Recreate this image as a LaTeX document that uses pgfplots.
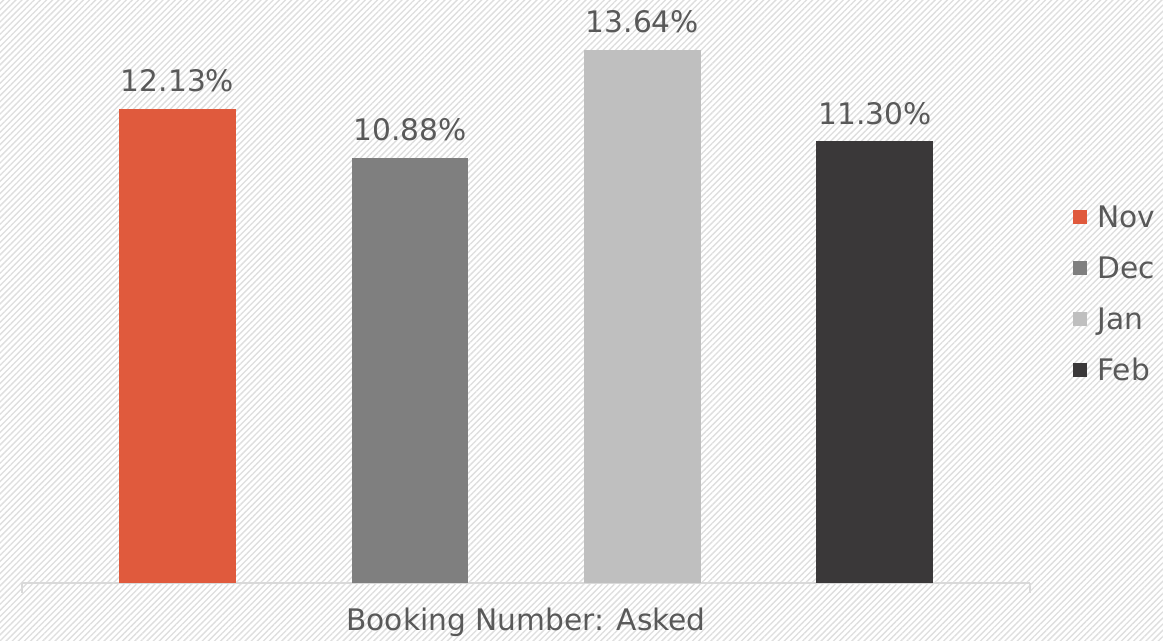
\documentclass[border=0pt]{standalone}
\usepackage{pgfplots}
\pgfplotsset{compat=1.18}
\usepackage{fontspec}
\setmainfont{DejaVu Sans}
\usetikzlibrary{patterns.meta}
\definecolor{cnov}{HTML}{E05A3D}
\definecolor{cdec}{HTML}{7F7F7F}
\definecolor{cjan}{HTML}{BFBFBF}
\definecolor{cfeb}{HTML}{3A3839}
\definecolor{txt}{HTML}{595959}
\definecolor{axl}{HTML}{D9D9D9}
\begin{document}
\begin{tikzpicture}
\path[use as bounding box] (-13.2pt,-34.8pt) rectangle (684.6pt,349.8pt);
\fill[white] (-13.2pt,-34.8pt) rectangle (684.6pt,349.8pt);
\fill[pattern={Lines[angle=45,distance=2.6pt,line width=0.8pt]},pattern color=black!13] (-13.2pt,-34.8pt) rectangle (684.6pt,349.8pt);
\begin{axis}[
  at={(0,0)}, anchor=south west,
  scale only axis,
  width=604.8pt, height=349.8pt,
  xmin=-0.669, xmax=3.667,
  ymin=0, ymax=14.92,
  ybar, bar width=0.503, bar shift=0pt,
  axis x line*=bottom, axis y line=none,
  axis line style={draw=axl, line width=1.2pt},
  xtick={-0.669,3.667}, xticklabels={},
  tick align=outside, major tick length=6pt,
  tick style={draw=axl, line width=1.2pt},
  ytick=\empty,
  clip=false,
  /pgf/number format/assume math mode=true,
  font=\fontsize{17.8}{21}\selectfont,
  xlabel={Booking Number: Asked},
  xlabel style={at={(axis description cs:0.5,0)}, anchor=north, inner sep=0pt, yshift=-15pt, text=txt},
  nodes near coords={\pgfmathprintnumber[fixed,fixed zerofill,precision=2,assume math mode=true]{\pgfplotspointmeta}\%},
  every node near coord/.append style={text=txt, anchor=south, inner sep=0pt, yshift=10pt, font=\fontsize{17.8}{21}\selectfont},
  legend image code/.code={\fill[#1] (0pt,-2.5pt) rectangle (8.4pt,5.9pt);},
  legend style={at={(axis description cs:1.0427,0.492)}, anchor=west, draw=none, fill=none,
    inner xsep=0pt, inner ysep=0pt, row sep=13.2pt, text=txt,
    font=\fontsize{17.8}{21}\selectfont,
    nodes={inner sep=0pt, text height=13.2pt, text depth=4.2pt},
    /tikz/every odd column/.append style={column sep=6pt}},
  legend cell align=left,
]
\addplot[fill=cnov, draw=none] coordinates {(0,12.13)};
\addplot[fill=cdec, draw=none] coordinates {(1,10.88)};
\addplot[fill=cjan, draw=none] coordinates {(2,13.64)};
\addplot[fill=cfeb, draw=none] coordinates {(3,11.30)};
\legend{Nov,Dec,Jan,Feb}
\end{axis}
\end{tikzpicture}
\end{document}
